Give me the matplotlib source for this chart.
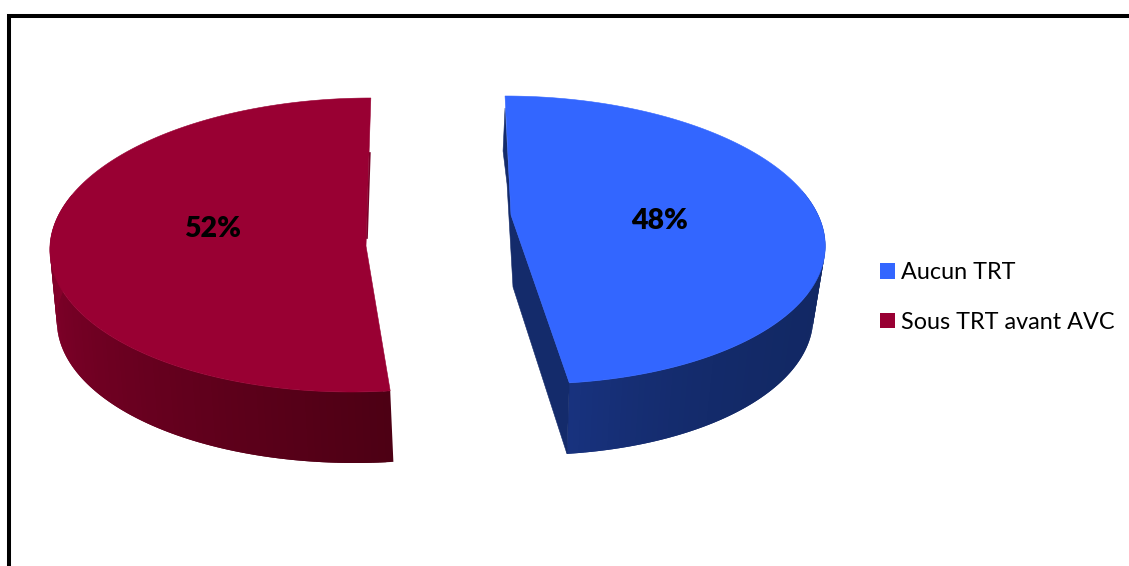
import numpy as np
import matplotlib
matplotlib.use("Agg")
import matplotlib.pyplot as plt
from matplotlib.colors import to_rgb
from matplotlib.patches import Patch, Polygon

plt.rcParams['font.family'] = ['Lato', 'DejaVu Sans']

labels = ['Aucun TRT', 'Sous TRT avant AVC']
shares = [48, 52]
top_colors = ['#3366FF', '#990033']


def rim(t, cx, cy, a, b, k):
    # ellipse point, t in degrees clockwise from 12 o'clock, k skews x with depth
    t = np.radians(t)
    dy = -b * np.cos(t)
    return cx + a * np.sin(t) + k * dy, cy + dy


def mix(c1, c2, f):
    return tuple((1 - f) * np.array(to_rgb(c1)) + f * np.array(to_rgb(c2)))


def draw_side(ax, t0, t1, top, bottom, c0, c1, power=1):
    # the outer wall, as thin strips shaded along the arc; each strip overlaps
    # the next one so no seams show between them
    ts = np.linspace(t0, t1, 90)
    for i in range(len(ts) - 1):
        xa, ya = rim(ts[i:i + 3], *top)
        xb, yb = rim(ts[i:i + 3], *bottom)
        col = mix(c0, c1, (i / (len(ts) - 2)) ** power)
        ax.add_patch(Polygon(np.c_[np.r_[xa, xb[::-1]], np.r_[ya, yb[::-1]]],
                             fc=col, ec='none', zorder=2))


fig = plt.figure(figsize=(11.29, 5.66), dpi=100)
ax = fig.add_axes([0, 0, 1, 1])
ax.set_xlim(0, 1129)
ax.set_ylim(566, 0)
ax.axis('off')

# frame runs off the right and bottom edges
ax.plot([9, 9, 1135], [575, 15.5, 15.5], color='black', lw=2.9,
        solid_joinstyle='miter', zorder=1)

angles = np.cumsum([0] + shares) * 3.6

# blue slice
top = (518, 240, 307, 144, 0.09)
bottom = (517, 311, 296, 144, 0.09)
apex = (511, 215)
t = np.linspace(angles[0], angles[1], 300)
x, y = rim(t, *top)
draw_side(ax, 70, angles[1], top, bottom, '#122864', '#18327E', power=4)
ex, ey = rim(angles[1], *top)
bx, by = rim(angles[1], *bottom)
sx, sy = rim(angles[0], *top)
inner = [(sx, sy + 12), (sx - 2, sy + 55), (sx + 2, sy + 88), (apex[0] + 2, apex[1] + 72),
         (bx, by), (ex, ey), apex]
ax.add_patch(Polygon(inner, fc='#142B6B', ec='#142B6B', lw=0.4, zorder=2))
ax.add_patch(Polygon(np.c_[np.r_[x, apex[0]], np.r_[y, apex[1]]],
                     fc=top_colors[0], ec=top_colors[0], lw=0.4, zorder=3))

# red slice
top = (361, 245, 311, 147, -0.067)
bottom = (364.6, 316, 307.6, 147, -0.067)
apex = (366, 246)
t = np.linspace(angles[1], angles[2], 300)
x, y = rim(t, *top)
draw_side(ax, angles[1], 290, top, bottom, '#4D0014', '#8C002E')
ax.add_patch(Polygon(np.c_[np.r_[x, apex[0]], np.r_[y, apex[1]]],
                     fc=top_colors[1], ec=top_colors[1], lw=0.4, zorder=3))
# thin dark sliver on the straight inner edge
sx, sy = rim(angles[2], *top)
ax.plot([sx - 1, apex[0] + 1], [sy + 55, apex[1] - 8], color='#7A0028', lw=1.2, zorder=4)

ax.text(213, 229, f'{shares[1]}%', ha='center', va='center', fontsize=20.5,
        fontweight='heavy', color='black', zorder=5)
ax.text(660, 221, f'{shares[0]}%', ha='center', va='center', fontsize=20.5,
        fontweight='heavy', color='black', zorder=5)

handles = [Patch(fc=c, ec=c, lw=0) for c in top_colors]
ax.legend(handles, labels, loc='upper left', bbox_to_anchor=(880, 262),
          bbox_transform=ax.transData, frameon=False, fontsize=16.8,
          handlelength=0.64, handleheight=0.64, handletextpad=0.28,
          labelspacing=1.23, borderpad=0, borderaxespad=0)

fig.savefig('out.png', dpi=100)
